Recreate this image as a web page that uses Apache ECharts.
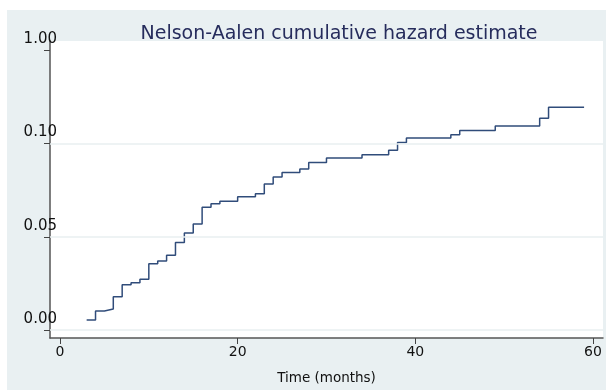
<!DOCTYPE html>
<html><head><meta charset="utf-8">
<script src="https://cdn.jsdelivr.net/npm/echarts@6/dist/echarts.min.js"></script>
<style>html,body{margin:0;padding:0;background:#fff}#c{width:606px;height:390px}</style>
</head><body><div id="c"></div>
<script>
var titleText = 'Nelson-Aalen cumulative hazard estimate';
var xAxisName = 'Time (months)';
var times = [3,4,5,6,7,8,9,10,11,12,13,14,15,16,17,18,20,22,23,24,25,27,28,30,34,37,38,39,44,45,49,54,55,59];
var hazard = [0.0054,0.0103,0.0113,0.0179,0.0243,0.0254,0.0273,0.0356,0.0371,0.0401,0.0469,0.0521,0.0569,0.0658,0.0677,0.0691,0.0714,0.0731,0.0783,0.0821,0.0844,0.0863,0.0898,0.0922,0.0939,0.0964,0.1005,0.1030,0.1047,0.1069,0.1094,0.1135,0.1194,0.1194];
var xTicks = [0,20,40,60];
var yTicks = [0,0.05,0.10,0.15];
var yTickLabels = ['0.00','0.05','0.10','1.00'];
var gridValues = [0,0.05,0.10];

var chart = echarts.init(document.getElementById('c'), null, {renderer:'canvas'});
var font = 'DejaVu Sans';
chart.setOption({
  animation:false,
  backgroundColor:'#ffffff',
  graphic:[{type:'rect',z:-10,silent:true,shape:{x:7,y:10,width:599,height:380},style:{fill:'#e9f0f2'}}],
  title:{text:titleText,left:334,textAlign:'center',top:20,textStyle:{fontFamily:font,fontSize:19,fontWeight:'normal',color:'#262c5c'}},
  grid:{left:50,right:3,top:41,bottom:46,show:true,backgroundColor:'#ffffff',borderWidth:0},
  xAxis:{type:'value',min:-1.125,max:61.13,
    name:xAxisName,nameLocation:'middle',nameGap:33,nameTextStyle:{fontFamily:font,fontSize:13.5,color:'#111'},
    axisLine:{show:true,onZero:false,lineStyle:{color:'#555',width:1.5}},
    axisTick:{show:true,length:6,customValues:xTicks,lineStyle:{color:'#444'}},
    axisLabel:{customValues:xTicks,margin:7,fontFamily:font,fontSize:14,color:'#111'},
    splitLine:{show:false}},
  yAxis:{type:'value',min:-0.0042,max:0.1549,
    axisLine:{show:true,onZero:false,lineStyle:{color:'#555',width:1.5}},
    axisTick:{show:true,length:6,customValues:yTicks,lineStyle:{color:'#444'}},
    axisLabel:{customValues:yTicks,margin:-7,align:'right',verticalAlign:'middle',lineHeight:22,fontFamily:font,fontSize:15,color:'#111',
      formatter:function(v){var i=yTicks.findIndex(function(t){return Math.abs(t-v)<1e-9;});return (i>=0?yTickLabels[i]:'')+'\n ';}},
    splitLine:{show:false}},
  series:[{type:'line',step:'end',data:times.map(function(t,i){return [t,hazard[i]];}),
    showSymbol:false,lineStyle:{color:'#304c7a',width:1.5},
    markLine:{silent:true,symbol:'none',label:{show:false},lineStyle:{color:'#e9eff1',type:'solid',width:1.5},
      data:gridValues.map(function(v){return {yAxis:v};})}}]
});
</script></body></html>
